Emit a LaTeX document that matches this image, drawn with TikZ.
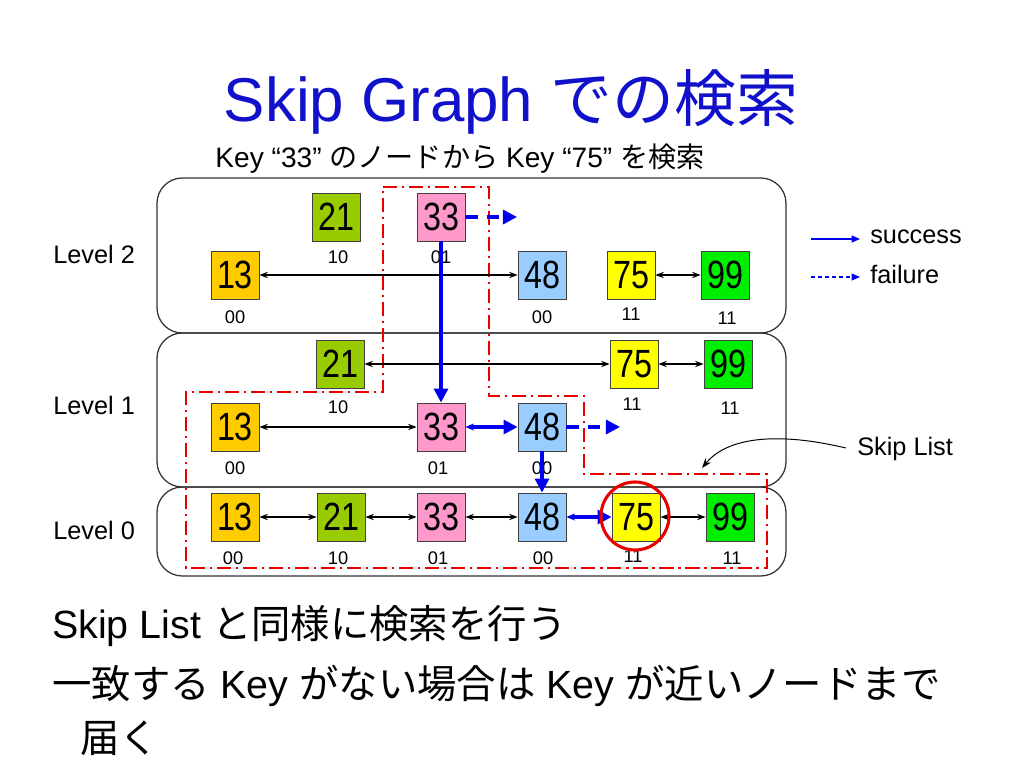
\documentclass[tikz,border=0pt]{standalone}
\usepackage{fontspec}
\setmainfont{Liberation Sans}
\newfontfamily\jp{Noto Sans CJK JP}
\newfontfamily\keyfont[FakeStretch=0.82]{Liberation Sans}
\usetikzlibrary{arrows.meta}
\definecolor{titleblue}{RGB}{17,17,204}
\definecolor{k13}{RGB}{255,204,0}
\definecolor{k21}{RGB}{153,204,0}
\definecolor{k33}{RGB}{255,153,204}
\definecolor{k48}{RGB}{153,204,255}
\definecolor{k75}{RGB}{255,255,0}
\definecolor{k99}{RGB}{0,238,0}
\definecolor{pathblue}{RGB}{0,0,240}
\definecolor{regionred}{RGB}{232,0,0}
\begin{document}
\begin{tikzpicture}[x=0.025cm, y=-0.025cm,
    keybox/.style={draw=black!75, line width=0.6pt, minimum size=1.2cm, inner sep=0pt,
      font=\keyfont\fontsize{28}{28}\selectfont},
    vec/.style={inner sep=0pt, font=\fontsize{13}{13}\selectfont},
    lvl/.style={anchor=base west, inner sep=0pt, font=\fontsize{18}{18}\selectfont},
    body/.style={anchor=base west, inner sep=0pt, font=\fontsize{28}{28}\selectfont},
    link/.style={{Stealth[length=6pt,width=4.5pt]}-{Stealth[length=6pt,width=4.5pt]}, line width=0.8pt},
    hit/.style={pathblue, line width=2.2pt, -{Triangle[length=10pt,width=10pt]}},
    hitlink/.style={hit, {Stealth[length=6pt,width=5pt]}-{Triangle[length=10pt,width=10pt]}},
    miss/.style={hit, dash pattern=on 9pt off 6pt},
    legend/.style={pathblue, line width=0.8pt, -{Triangle[length=6pt,width=5pt]}},
    region/.style={regionred, line width=1.6pt, dash pattern=on 10pt off 3.5pt on 1.5pt off 3.5pt},
    levelbox/.style={draw=black!80, line width=0.9pt, rounded corners=18pt}]
  \useasboundingbox (0,0) rectangle (1024,768);

  % titles
  \node[anchor=base, inner sep=0pt, text=titleblue, font=\fontsize{44}{44}\selectfont]
    (title) at (511,122) {Skip Graph {\jp での検索}};
  \node[anchor=base, inner sep=0pt, font=\fontsize{20}{20}\selectfont]
    (task) at (460,168) {Key “33” {\jp のノードから} Key “75” {\jp を検索}};

  % levels
  \draw[levelbox] (157,178) rectangle (786,333);
  \draw[levelbox] (157,333) rectangle (786,487);
  \draw[levelbox] (157,487) rectangle (786,576);
  \node[lvl] (lv2) at (53,263) {Level 2};
  \node[lvl] (lv1) at (53,414) {Level 1};
  \node[lvl] (lv0) at (53,539) {Level 0};

  % search region
  \draw[region] (383,187) -- (489,187) -- (489,396) -- (584,396) -- (584,474)
    -- (767,474) -- (767,568) -- (186,568) -- (186,392) -- (383,392) -- cycle;

  % level 2
  \draw
    (336,217) node[keybox,fill=k21] (2-21){21}
    (441,217) node[keybox,fill=k33] (2-33){33}
    (235,275) node[keybox,fill=k13] (2-13){13}
    (542,275) node[keybox,fill=k48] (2-48){48}
    (631,275) node[keybox,fill=k75] (2-75){75}
    (725,275) node[keybox,fill=k99] (2-99){99};
  \draw
    (338,257) node[vec] (2-21v){10}
    (441,257) node[vec] (2-33v){01}
    (235,317) node[vec] (2-13v){00}
    (542,317) node[vec] (2-48v){00}
    (631,314) node[vec] (2-75v){11}
    (727,318) node[vec] (2-99v){11};

  % level 1
  \draw
    (340,364) node[keybox,fill=k21] (1-21){21}
    (634,364) node[keybox,fill=k75] (1-75){75}
    (728,364) node[keybox,fill=k99] (1-99){99}
    (235,427) node[keybox,fill=k13] (1-13){13}
    (441,427) node[keybox,fill=k33] (1-33){33}
    (542,427) node[keybox,fill=k48] (1-48){48};
  \draw
    (338,407) node[vec] (1-21v){10}
    (632,404) node[vec] (1-75v){11}
    (730,408) node[vec] (1-99v){11}
    (235,468) node[vec] (1-13v){00}
    (438,468) node[vec] (1-33v){01}
    (542,468) node[vec] (1-48v){00};

  % level 0
  \draw
    (235,517) node[keybox,fill=k13] (0-13){13}
    (341,517) node[keybox,fill=k21] (0-21){21}
    (441,517) node[keybox,fill=k33] (0-33){33}
    (542,517) node[keybox,fill=k48] (0-48){48}
    (636,517) node[keybox,fill=k75] (0-75){75}
    (730,517) node[keybox,fill=k99] (0-99){99};
  \draw
    (233,558) node[vec] (0-13v){00}
    (338,558) node[vec] (0-21v){10}
    (438,558) node[vec] (0-33v){01}
    (543,558) node[vec] (0-48v){00}
    (633,556) node[vec] (0-75v){11}
    (732,558) node[vec] (0-99v){11};

  % lists
  \begin{scope}[link]
    \draw (2-13) to (2-48);
    \draw (2-75) to (2-99);
    \draw (1-21) to (1-75);
    \draw (1-75) to (1-99);
    \draw (1-13) to (1-33);
    \draw (0-13) to (0-21);
    \draw (0-21) to (0-33);
    \draw (0-33) to (0-48);
    \draw (0-75) to (0-99);
  \end{scope}

  % search 33 -> 75
  \coordinate (miss2) at (517,217);
  \coordinate (miss1) at (620,427);
  \draw[miss] (2-33) -- (miss2);
  \draw[hit] (2-33) -- (1-33);
  \draw[hitlink] (1-33) -- (1-48);
  \draw[miss] (1-48) -- (miss1);
  \draw[hit] (1-48) -- (0-48);
  \draw[hitlink] (0-48) -- (0-75);
  \node[draw=regionred, line width=2.2pt, circle, minimum size=1.7cm] (goal) at (635,516) {};

  % legend
  \coordinate (ok1) at (811,239);
  \coordinate (ok2) at (860,239);
  \coordinate (ng1) at (811,277);
  \coordinate (ng2) at (860,277);
  \draw[legend] (ok1) -- (ok2);
  \draw[legend, dash pattern=on 3pt off 2pt] (ng1) -- (ng2);
  \node[lvl] (okText) at (870,243) {success};
  \node[lvl] (ngText) at (870,283) {failure};

  % skip list note
  \node[lvl] (note) at (857,455) {Skip List};
  \coordinate (noteTip) at (702,468);
  \draw[-{Stealth[length=7pt,width=5pt]}, line width=0.7pt]
    ([xshift=-8pt,yshift=5pt]note.base west) .. controls (770,430) and (725,440) .. (noteTip);

  % text below
  \node[body] (line1) at (52,638) {Skip List {\jp と同様に検索を行う}};
  \node[body] (line2) at (52,698) {{\jp 一致する} Key {\jp がない場合は} Key {\jp が近いノードまで}};
  \node[body] (line3) at (80,752) {{\jp 届く}};
\end{tikzpicture}
\end{document}
